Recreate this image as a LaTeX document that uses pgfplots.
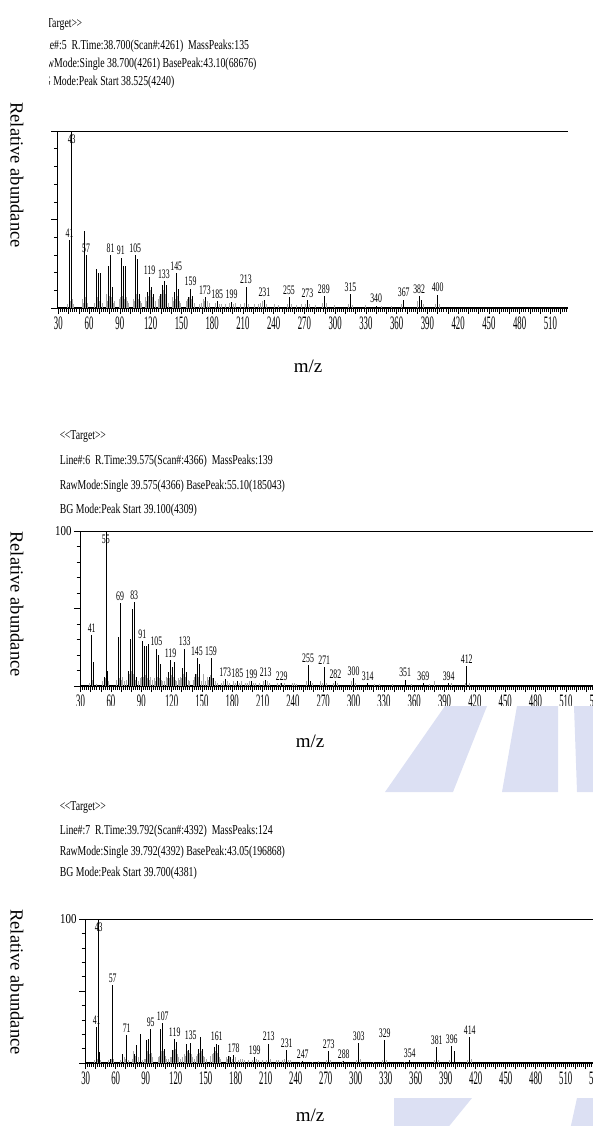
\documentclass[border=0pt]{standalone}
\usepackage{fontspec}
\setmainfont{Liberation Serif}
\usepackage{graphicx}
\usepackage{pgfplots}
\pgfplotsset{compat=1.18}
\usepackage{pgfplotstable}

% ---------------- Panel 1 (Line#:5) ----------------
\pgfplotstableread{
mz ab
41 38.5
43 100
55 43.5
57 30
67 22
69 19.5
71 19.5
79 24
81 30
83 12
91 28.5
93 24
95 24
105 30
107 27.5
109 8
117 9
119 17.5
121 12
123 8
129 8
131 13
133 15
135 13
143 9
145 19.5
147 11
157 6
159 11
161 7
173 6
185 4
199 3.5
213 12
231 4.7
255 6.3
273 4.3
289 6.6
315 8
340 1.3
367 4.7
382 6.6
384 4.5
400 7.5
}\onemain
\pgfplotstableread{
mz ab
39 2
42 4
44 5
45 2
53 5
54 3
56 6
58 3
65 3
68 6
70 4
73 3
77 8
78 4
80 7
82 6
84 3
85 4
89 5
90 6
92 7
94 5
96 6
97 4
98 3
103 5
104 4
106 8
108 5
110 4
111 3
115 6
116 4
118 7
120 10
122 6
125 4
127 5
128 7
130 8
132 10
134 8
137 3
141 6
142 4
144 5
146 7
148 4
149 3
155 4
156 5
158 6
160 5
163 3
167 2
169 3
171 5
172 4
175 4
177 3
183 3
187 2
189 2
193 2
197 3
201 2
203 3
207 2
211 3
215 2
221 2
225 2
227 3
229 4
233 2
241 2
245 1.5
253 2
257 2
262 1.5
267 2
271 2
275 2
281 1.5
287 3
291 3
299 1.5
313 2
317 1.5
329 1.5
345 1
355 1
365 2
380 4
386 2
398 2
402 2
}\onenoise
\pgfplotstableread{
mz ab lab
41 38.5 41
57 30 57
81 30 81
91 28.5 91
105 30 105
119 17.5 119
133 15 133
145 19.5 145
159 11 159
173 6 173
185 4 185
199 3.5 199
213 12 213
231 4.7 231
255 6.3 255
273 4.3 273
289 6.6 289
315 8 315
340 1.3 340
367 4.7 367
382 6.6 382
400 7.5 400
}\onelab
\pgfplotstableread{
mz ab lab
43 100 43
}\onebase

% ---------------- Panel 2 (Line#:6) ----------------
\pgfplotstableread{
mz ab
41 33
43 15.5
53 6
55 100
56 10
67 31.5
69 53.5
77 10
79 30.5
81 50
83 54
85 6
91 29
93 26
95 26
97 27
105 24
107 20
109 14.5
117 9
119 16.5
121 12.5
123 15.5
131 11.5
133 24
135 9
143 8
145 18
147 14.5
157 6
159 18
161 5
173 4.5
185 3.5
199 3
213 4
229 2
255 13.5
257 3.5
271 12
282 3
300 5
314 2
351 4
369 2
394 2
412 13
}\twomain
\pgfplotstableread{
mz ab
39 2
42 4
45 1.5
51 3
54 5
57 3
65 4
68 5
70 4
71 6
73 3
75 4
78 8
80 10
82 8
84 4
87 3
89 5
90 6
92 6
94 7
96 5
98 4
99 6
101 4
103 5
104 3
106 6
108 5
110 4
111 3
113 3
115 6
116 5
118 5
120 7
122 6
124 4
125 3
127 5
128 4
129 6
130 5
132 8
134 6
136 4
137 3
141 4
142 6
144 8
146 6
149 3
151 8
153 3
155 6
156 4
158 7
160 5
163 3
165 2
169 2
171 3
175 3
177 2
181 3
183 2
187 2
189 3
193 2
195 2
197 3
201 2
203 2
207 2
211 3
215 3
217 2
225 2
227 2
231 2
239 2
241 2
243 1.5
253 3
259 2
267 3
269 2
273 2
280 2
284 2
298 3
302 2
320 1.5
325 1
338 1
357 1.5
375 1.5
380 3
397 2
410 2
414 2
}\twonoise
\pgfplotstableread{
mz ab lab
41 33 41
69 53.5 69
83 54 83
91 29 91
105 24 105
119 16.5 119
133 24 133
145 18 145
159 18 159
173 4.5 173
185 3.5 185
199 3 199
213 4 213
229 2 229
255 13.5 255
271 12 271
282 3 282
300 5 300
314 2 314
351 4 351
369 2 369
394 2 394
412 13 412
}\twolab
\pgfplotstableread{
mz ab lab
55 100 55
}\twobase

% ---------------- Panel 3 (Line#:7) ----------------
\pgfplotstableread{
mz ab
41 25
43 100
44 7.7
55 3
57 54
67 6.5
71 19.3
79 6
81 12.3
85 20
91 15.8
93 17
95 23.5
105 23.5
107 27.5
109 10
117 8.8
119 16.5
121 14.7
131 13.5
133 8.8
135 14.2
143 10
145 18
147 10
159 11
161 13.5
163 12.3
173 5
175 4
178 5.3
199 4.2
213 13.5
231 9
247 1.5
273 8
288 1.5
303 14
329 15.8
354 2
381 11
396 11.5
399 8
414 18
}\threemain
\pgfplotstableread{
mz ab
39 2
42 3
45 2
53 2
56 3
58 3
65 2
69 4
70 3
73 2
77 3
78 8
80 5
83 4
87 2
89 3
90 3
92 8
94 6
96 7
97 4
103 4
104 5
106 8
108 8
110 5
111 3
113 3
115 4
116 4
118 9
120 10
122 6
123 4
125 3
127 4
129 6
130 5
132 8
134 7
136 6
137 4
139 3
141 5
142 6
144 7
146 8
148 5
149 4
151 3
155 5
157 6
158 7
160 8
162 7
164 4
165 3
171 4
172 3
174 5
177 3
180 4
183 2
185 3
187 3
189 2
193 2
197 2
201 3
203 2
207 2
211 2
215 3
221 2
223 2
227 2
229 3
233 2
235 2
245 1
257 1
263 1.5
271 2
275 2
287 1.5
301 2
305 3
318 1
327 2
331 2
349 1
379 2
383 2
394 2
412 2
416 3
}\threenoise
\pgfplotstableread{
mz ab lab
41 25 41
57 54 57
71 19.3 71
95 23.5 95
107 27.5 107
119 16.5 119
135 14.2 135
161 13.5 161
178 5.3 178
199 4.2 199
213 13.5 213
231 9 231
247 1.5 247
273 8 273
288 1.5 288
303 14 303
329 15.8 329
354 2 354
381 11 381
396 11.5 396
414 18 414
}\threelab
\pgfplotstableread{
mz ab lab
43 100 43
}\threebase

\definecolor{wm}{RGB}{220,224,243}
\newcommand{\hdr}[1]{\scalebox{0.72}[1]{\fontsize{13.6}{13.6}\selectfont #1}}
\newcommand{\tgt}{\textless\kern-0.5pt\textless Target\textgreater\kern-0.5pt\textgreater}

\pgfplotsset{
  ms/.style={
    scale only axis,
    axis y line*=left, axis x line*=bottom,
    axis line style={-, line width=0.8pt},
    x axis line style={line width=1.4pt},
    enlargelimits=false,
    ymin=0, ymax=100,
    ytick={0,50,100},
    minor ytick={10,20,30,40,60,70,80,90},
    tick align=outside,
    major tick length=6pt, minor tick length=3.5pt,
    tick style={black, line width=0.6pt},
    xtick={30,60,...,540},
    minor x tick num=14,
    extra x ticks={40,50,70,80,100,110,130,140,160,170,190,200,220,230,250,260,280,290,310,320,340,350,370,380,400,410,430,440,460,470,490,500,520,530,550},
    extra x tick labels={},
    extra x tick style={tick style={black, line width=0.6pt}},
    xticklabel={\scalebox{0.46}[1]{\fontsize{19}{19}\selectfont\pgfmathprintnumber[assume math mode=true]{\tick}}},
    xticklabel style={anchor=north, yshift=1pt},
    yticklabel style={anchor=east, xshift=1pt},
  },
  grass/.style={ycomb, gray!70, line width=0.5pt},
  peak/.style={ycomb, black, line width=0.6pt},
  labs/.style={draw=none, point meta=explicit symbolic,
    nodes near coords={\scalebox{0.6}[1]{\pgfplotspointmeta}},
    every node near coord/.style={font=\fontsize{13}{13}\selectfont, anchor=south, inner sep=0.5pt, yshift=2pt}},
  baselabs/.style={draw=none, point meta=explicit symbolic,
    nodes near coords={\scalebox{0.6}[1]{\pgfplotspointmeta}},
    every node near coord/.style={font=\fontsize{13}{13}\selectfont, anchor=north, inner sep=0.5pt, yshift=-3pt}},
}

\begin{document}
\begin{tikzpicture}[x=1pt,y=1pt]
% ======== Panel 1 ========
\begin{scope}
\clip (49,0) rectangle (592,-100);
\node[anchor=west, inner sep=0pt] at (36,-25) {\hdr{\tgt}};
\node[anchor=west, inner sep=0pt] at (36,-46) {\hdr{Line\#:5~~R.Time:38.700(Scan\#:4261)~~MassPeaks:135}};
\node[anchor=west, inner sep=0pt] at (36,-64) {\hdr{RawMode:Single 38.700(4261) BasePeak:43.10(68676)}};
\node[anchor=west, inner sep=0pt] at (37,-82) {\hdr{BG Mode:Peak Start 38.525(4240)}};
\end{scope}
\begin{axis}[ms, at={(57.3pt,-308pt)}, anchor=south west,
  width=510.7pt, height=177pt, xmin=29, xmax=527.2, yticklabels={}]
  \addplot[grass] table[x=mz,y=ab]{\onenoise};
  \addplot[peak] table[x=mz,y=ab]{\onemain};
  \addplot[labs] table[x=mz,y=ab,meta=lab]{\onelab};
  \addplot[baselabs] table[x=mz,y=ab,meta=lab]{\onebase};
  \draw[line width=0.8pt] (rel axis cs:0,1) -- (rel axis cs:1,1);
\end{axis}
\node[rotate=-90, font=\fontsize{18.5}{18.5}\selectfont] at (17,-175) {Relative abundance};
\node[font=\fontsize{19}{19}\selectfont] at (308,-366) {m/z};

% ======== Panel 2 ========
\node[anchor=west, inner sep=0pt] at (59.6,-437) {\hdr{\tgt}};
\node[anchor=west, inner sep=0pt] at (59.6,-461) {\hdr{Line\#:6~~R.Time:39.575(Scan\#:4366)~~MassPeaks:139}};
\node[anchor=west, inner sep=0pt] at (59.6,-486) {\hdr{RawMode:Single 39.575(4366) BasePeak:55.10(185043)}};
\node[anchor=west, inner sep=0pt] at (59.6,-510) {\hdr{BG Mode:Peak Start 39.100(4309)}};
\begin{axis}[ms, at={(80pt,-686pt)}, anchor=south west,
  width=526.3pt, height=155pt, xmin=29.4, xmax=550,
  yticklabels={{},{},{\scalebox{0.8}[1]{\fontsize{13.6}{13.6}\selectfont 100}}}]
  \addplot[grass] table[x=mz,y=ab]{\twonoise};
  \addplot[peak] table[x=mz,y=ab]{\twomain};
  \addplot[labs] table[x=mz,y=ab,meta=lab]{\twolab};
  \addplot[baselabs] table[x=mz,y=ab,meta=lab]{\twobase};
  \draw[line width=0.8pt] (rel axis cs:0,1) -- (rel axis cs:1,1);
\end{axis}
\fill[white] (55,-706) rectangle (600,-732);
\fill[wm] (445,-706) -- (487,-706) -- (453,-792) -- (385,-792) -- cycle;
\fill[wm] (517,-706) -- (558,-706) -- (558,-792) -- (502,-792) -- cycle;
\fill[wm] (574,-706) -- (600,-706) -- (600,-792) -- (577,-792) -- cycle;
\node[rotate=-90, font=\fontsize{18.5}{18.5}\selectfont] at (17,-604) {Relative abundance};
\node[font=\fontsize{19}{19}\selectfont] at (310,-741) {m/z};

% ======== Panel 3 ========
\node[anchor=west, inner sep=0pt] at (59.6,-808) {\hdr{\tgt}};
\node[anchor=west, inner sep=0pt] at (59.6,-831) {\hdr{Line\#:7~~R.Time:39.792(Scan\#:4392)~~MassPeaks:124}};
\node[anchor=west, inner sep=0pt] at (59.6,-852) {\hdr{RawMode:Single 39.792(4392) BasePeak:43.05(196868)}};
\node[anchor=west, inner sep=0pt] at (59.6,-873) {\hdr{BG Mode:Peak Start 39.700(4381)}};
\begin{axis}[ms, at={(85pt,-1063pt)}, anchor=south west,
  width=520.7pt, height=144pt, xmin=29.3, xmax=550,
  yticklabels={{},{},{\scalebox{0.8}[1]{\fontsize{13.6}{13.6}\selectfont 100}}}]
  \addplot[grass] table[x=mz,y=ab]{\threenoise};
  \addplot[peak] table[x=mz,y=ab]{\threemain};
  \addplot[labs] table[x=mz,y=ab,meta=lab]{\threelab};
  \addplot[baselabs] table[x=mz,y=ab,meta=lab]{\threebase};
  \draw[line width=0.8pt] (rel axis cs:0,1) -- (rel axis cs:1,1);
\end{axis}
\fill[wm] (394,-1098) -- (472,-1098) -- (446,-1130) -- (394,-1130) -- cycle;
\fill[wm] (577,-1098) -- (600,-1098) -- (600,-1130) -- (570,-1130) -- cycle;
\node[rotate=-90, font=\fontsize{18.5}{18.5}\selectfont] at (17,-982) {Relative abundance};
\node[font=\fontsize{19}{19}\selectfont] at (310,-1115) {m/z};

\pgfresetboundingbox
\useasboundingbox (0,0) rectangle (592,-1126);
\end{tikzpicture}
\end{document}
